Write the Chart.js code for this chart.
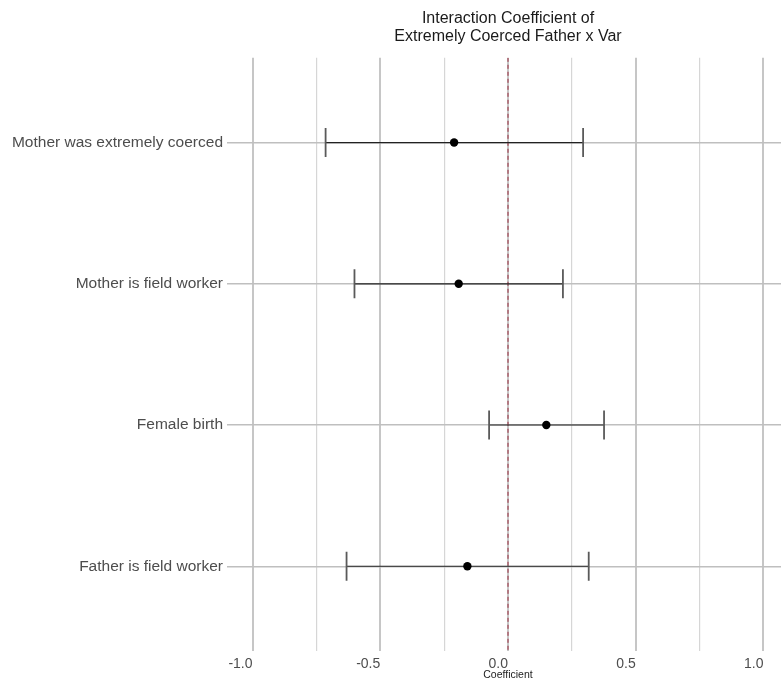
<!DOCTYPE html>
<html>
<head>
<meta charset="utf-8">
<script src="https://cdn.jsdelivr.net/npm/chart.js@4.4.1/dist/chart.umd.min.js"></script>
<style>
  html, body { margin: 0; padding: 0; background: #ffffff; overflow: hidden; }
  /* the panel runs a few pixels past the right edge of the page */
  #wrap { width: 781px; height: 682px; overflow: hidden; }
  #chart { display: block; }
</style>
</head>
<body>
<div id="wrap"><canvas id="chart" width="789" height="682"></canvas></div>
<script>
// Rows of the coefficient plot, top to bottom
const categories = [
  'Mother was extremely coerced',
  'Mother is field worker',
  'Female birth',
  'Father is field worker'
];
// Point estimates and confidence bounds for each row
const estimates = [-0.211, -0.193, 0.150, -0.159];
const lower     = [-0.714, -0.601, -0.074, -0.632];
const upper     = [ 0.294,  0.215,  0.376,  0.316];

// x axis ticks (minor ticks carry an empty label)
const xTickValues = [-1, -0.75, -0.5, -0.25, 0, 0.25, 0.5, 0.75, 1];
const xTickLabels = ['-1.0', '', '-0.5', '', '0.0', '', '0.5', '', '1.0'];

// Reference line at zero
const refValue = 0;

const FONT = "'Liberation Sans', Arial, Helvetica, sans-serif";
const yMin = -0.6, yMax = categories.length - 1 + 0.6;

const segmentSets = categories.map((c, i) => ({
  type: 'scatter',
  showLine: true,
  data: [{ x: lower[i], y: i }, { x: upper[i], y: i }],
  borderColor: '#222222',
  borderWidth: 1.2,
  pointRadius: 0,
  order: 3
}));

const capSet = {
  type: 'scatter',
  data: categories.flatMap((c, i) => [{ x: lower[i], y: i }, { x: upper[i], y: i }]),
  pointStyle: 'line',
  pointRotation: 90,
  pointRadius: 14.5,
  pointBorderWidth: 1.8,
  pointBorderColor: '#5a5a5a',
  pointBackgroundColor: '#5a5a5a',
  order: 2
};

const pointSet = {
  type: 'scatter',
  data: categories.map((c, i) => ({ x: estimates[i], y: i })),
  pointStyle: 'circle',
  pointRadius: 4.2,
  pointBorderWidth: 0,
  pointBackgroundColor: '#000000',
  pointBorderColor: '#000000',
  order: 1
};

const refSet = {
  type: 'scatter',
  showLine: true,
  data: [{ x: refValue, y: yMin }, { x: refValue, y: yMax }],
  borderColor: 'rgba(150, 20, 40, 0.85)',
  borderWidth: 1,
  borderDash: [4, 3],
  pointRadius: 0,
  order: 5
};

new Chart(document.getElementById('chart'), {
  type: 'scatter',
  data: { datasets: [pointSet, capSet, ...segmentSets, refSet] },
  options: {
    responsive: false,
    animation: false,
    devicePixelRatio: 1,
    layout: { padding: 0, autoPadding: false },
    plugins: {
      legend: { display: false },
      tooltip: { enabled: false },
      title: {
        display: true,
        fullSize: false,
        text: ['Interaction Coefficient of', 'Extremely Coerced Father x Var'],
        color: '#1a1a1a',
        font: { family: FONT, size: 16, weight: 'normal', lineHeight: 1.15 },
        padding: { top: 9, bottom: 12 }
      }
    },
    scales: {
      x: {
        type: 'linear',
        position: 'bottom',
        min: -1.1,
        max: 1.1,
        afterBuildTicks: axis => { axis.ticks = xTickValues.map(v => ({ value: v })); },
        afterFit: axis => {
          axis.height = 31;
          // labels never overhang the panel, so no side padding is needed
          axis.paddingLeft = 0;
          axis.paddingRight = 0;
        },
        border: { display: false },
        grid: {
          drawTicks: false,
          color: ctx => (xTickLabels[xTickValues.indexOf(ctx.tick.value)] ? '#c6c6c6' : '#d6d6d6'),
          lineWidth: ctx => (xTickLabels[xTickValues.indexOf(ctx.tick.value)] ? 2 : 1.2)
        },
        ticks: {
          autoSkip: false,
          maxRotation: 0,
          align: 'end',
          padding: 5,
          color: '#4d4d4d',
          font: { family: FONT, size: 14 },
          callback: v => xTickLabels[xTickValues.indexOf(v)]
        },
        title: {
          display: true,
          text: 'Coefficient',
          color: '#222222',
          font: { family: FONT, size: 10.5 },
          padding: { top: 0, bottom: 1 }
        }
      },
      y: {
        type: 'linear',
        reverse: true,
        min: yMin,
        max: yMax,
        afterBuildTicks: axis => { axis.ticks = categories.map((c, i) => ({ value: i })); },
        afterFit: axis => { axis.width = 227; },
        border: { display: false },
        grid: {
          drawTicks: false,
          color: '#bfbfbf',
          lineWidth: 1.5
        },
        ticks: {
          autoSkip: false,
          padding: 4,
          color: '#4d4d4d',
          font: { family: FONT, size: 15.5 },
          callback: v => categories[v]
        }
      }
    }
  }
});
</script>
</body>
</html>
